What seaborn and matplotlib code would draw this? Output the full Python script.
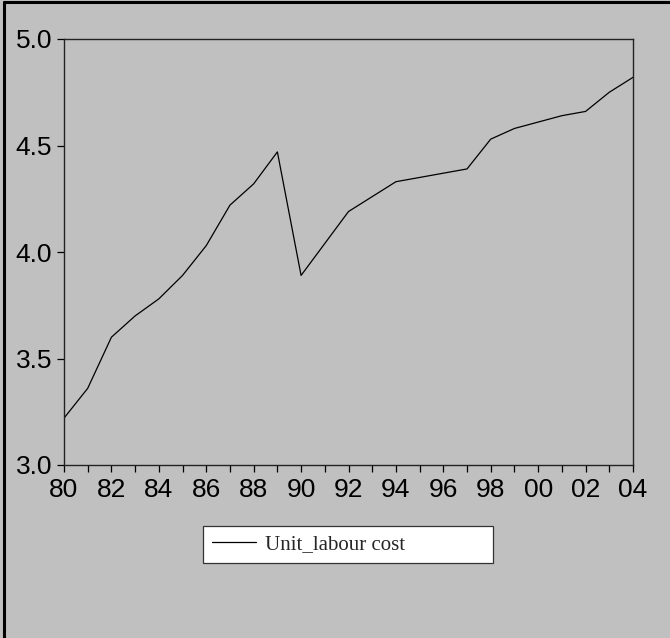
import matplotlib
matplotlib.use("Agg")
import matplotlib.pyplot as plt
import seaborn as sns
import pandas as pd

# data
years = list(range(1980, 2005))
unit_labour_cost = [3.22, 3.36, 3.60, 3.70, 3.78, 3.89, 4.03, 4.22, 4.32, 4.47,
                    3.89, 4.04, 4.19, 4.26, 4.33, 4.35, 4.37, 4.39, 4.53, 4.58,
                    4.61, 4.64, 4.66, 4.75, 4.82]
tick_labels = [str(y)[2:] if y % 2 == 0 else "" for y in years]
y_ticks = [3.0, 3.5, 4.0, 4.5, 5.0]

bg = "#c0c0c0"
sns.set_theme(style="ticks", rc={"axes.facecolor": bg, "figure.facecolor": bg,
                                 "axes.edgecolor": "#222222", "axes.linewidth": 1.0})
plt.rcParams["font.family"] = ["Liberation Sans", "DejaVu Sans"]

df = pd.DataFrame({"year": years, "Unit_labour cost": unit_labour_cost})

fig = plt.figure(figsize=(6.7, 6.38), dpi=100)
ax = fig.add_axes([64 / 670, 1 - 465 / 638, 569 / 670, 426 / 638])
sns.lineplot(data=df, x="year", y="Unit_labour cost", color="black", lw=0.9,
             label="Unit_labour cost", ax=ax)

ax.set_xlim(1980, 2004)
ax.set_ylim(3.0, 5.0)
ax.set_xticks(years)
ax.set_xticklabels(tick_labels)
ax.set_yticks(y_ticks)
ax.set_yticklabels([f"{v:.1f}" for v in y_ticks])
ax.tick_params(axis="both", direction="out", length=5, width=0.9, color="black",
               labelsize=19, labelcolor="black", pad=3.5)
ax.tick_params(axis="x", pad=4.5)
ax.set_xlabel("")
ax.set_ylabel("")
for s in ax.spines.values():
    s.set_visible(True)

leg = ax.legend(loc="upper left", bbox_to_anchor=(203 / 670, 1 - 562 / 638, 290 / 670, 36 / 638),
                bbox_transform=fig.transFigure, mode="expand", borderaxespad=0,
                fancybox=False, framealpha=1, facecolor="white", edgecolor="#333333",
                prop={"family": "Liberation Serif", "size": 15},
                handlelength=2.1, handletextpad=0.45, borderpad=0.42)
leg.get_frame().set_linewidth(0.9)

# outer frame (left and top edges visible)
fig.add_artist(plt.Line2D([4 / 670, 4 / 670], [0, 1 - 2 / 638], color="black", lw=2.2,
                          transform=fig.transFigure))
fig.add_artist(plt.Line2D([4 / 670, 1], [1 - 2 / 638, 1 - 2 / 638], color="black", lw=2.2,
                          transform=fig.transFigure))

fig.savefig("out.png", dpi=100, facecolor=bg)
